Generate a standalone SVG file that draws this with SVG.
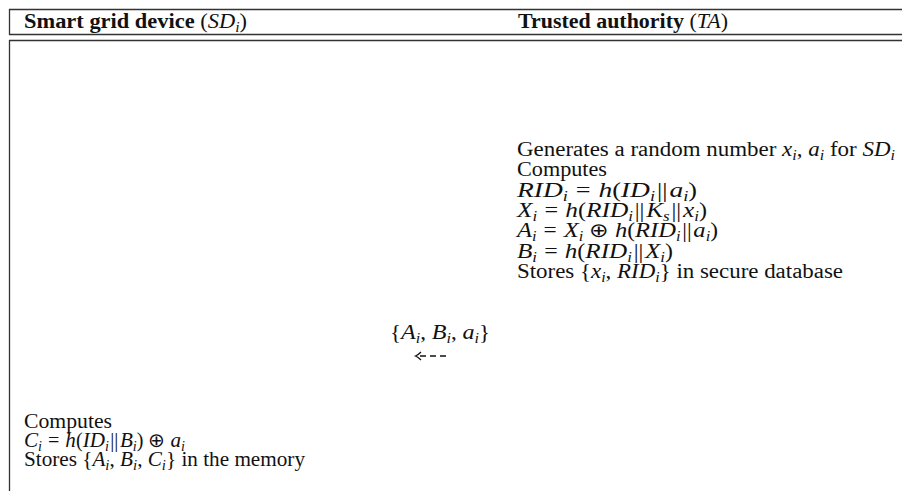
<svg xmlns="http://www.w3.org/2000/svg" width="902" height="491" viewBox="0 0 902 491">
<style>
text{font-family:"Liberation Serif","Times New Roman",serif;font-size:20px;fill:#111}
.b{font-weight:bold}
.m{font-style:italic}
.q{font-style:italic;font-size:21px}
.s{font-style:italic;font-size:14px}
.rule{stroke:#333;stroke-width:1.3;fill:none}
.arr{stroke:#111;stroke-width:1.3;fill:none}
</style>
<g id="frame">
<line class="rule" x1="9" y1="9.5" x2="902" y2="9.5"/>
<line class="rule" x1="9" y1="34.5" x2="902" y2="34.5"/>
<line class="rule" x1="9" y1="40.5" x2="902" y2="40.5"/>
<line class="rule" x1="9.5" y1="9" x2="9.5" y2="35"/>
<line class="rule" x1="9.5" y1="40" x2="9.5" y2="491"/>
</g>
<g id="header-sd"><text x="24" y="28" textLength="223" lengthAdjust="spacingAndGlyphs"><tspan class="b">Smart grid device</tspan> (<tspan class="m">SD</tspan><tspan class="s" dy="4">i</tspan><tspan dy="-4">)</tspan></text></g>
<g id="header-ta"><text x="518" y="28" textLength="210" lengthAdjust="spacingAndGlyphs"><tspan class="b">Trusted authority</tspan> (<tspan class="m">TA</tspan>)</text></g>
<g id="ta-node">
<text x="517" y="156" textLength="378" lengthAdjust="spacingAndGlyphs">Generates a random number <tspan class="m">x</tspan><tspan class="s" dy="4">i</tspan><tspan dy="-4">, </tspan><tspan class="m">a</tspan><tspan class="s" dy="4">i</tspan><tspan dy="-4"> for </tspan><tspan class="m">SD</tspan><tspan class="s" dy="4">i</tspan></text>
<text x="517" y="176.3" textLength="90" lengthAdjust="spacingAndGlyphs">Computes</text>
<text x="517" y="196.6" textLength="180" lengthAdjust="spacingAndGlyphs"><tspan class="q">RID</tspan><tspan class="s" dy="4">i</tspan><tspan dy="-4" dx="6">=</tspan><tspan class="q" dx="6">h</tspan>(<tspan class="q">ID</tspan><tspan class="s" dy="4">i</tspan><tspan dy="-4" dx="1.5">||</tspan><tspan class="q" dx="1.5">a</tspan><tspan class="s" dy="4">i</tspan><tspan dy="-4">)</tspan></text>
<text x="517" y="216.9" textLength="190" lengthAdjust="spacingAndGlyphs"><tspan class="q">X</tspan><tspan class="s" dy="4">i</tspan><tspan dy="-4" dx="6">=</tspan><tspan class="q" dx="6">h</tspan>(<tspan class="q">RID</tspan><tspan class="s" dy="4">i</tspan><tspan dy="-4" dx="1.5">||</tspan><tspan class="q" dx="1.5">K</tspan><tspan class="s" dy="4">s</tspan><tspan dy="-4" dx="1.5">||</tspan><tspan class="q" dx="1.5">x</tspan><tspan class="s" dy="4">i</tspan><tspan dy="-4">)</tspan></text>
<text x="517" y="237.2" textLength="201" lengthAdjust="spacingAndGlyphs"><tspan class="q">A</tspan><tspan class="s" dy="4">i</tspan><tspan dy="-4" dx="6">=</tspan><tspan class="q" dx="6">X</tspan><tspan class="s" dy="4">i</tspan><tspan dy="-4" dx="5">⊕</tspan><tspan class="q" dx="5">h</tspan>(<tspan class="q">RID</tspan><tspan class="s" dy="4">i</tspan><tspan dy="-4" dx="1.5">||</tspan><tspan class="q" dx="1.5">a</tspan><tspan class="s" dy="4">i</tspan><tspan dy="-4">)</tspan></text>
<text x="517" y="257.5" textLength="156" lengthAdjust="spacingAndGlyphs"><tspan class="q">B</tspan><tspan class="s" dy="4">i</tspan><tspan dy="-4" dx="6">=</tspan><tspan class="q" dx="6">h</tspan>(<tspan class="q">RID</tspan><tspan class="s" dy="4">i</tspan><tspan dy="-4" dx="1.5">||</tspan><tspan class="q" dx="1.5">X</tspan><tspan class="s" dy="4">i</tspan><tspan dy="-4">)</tspan></text>
<text x="517" y="277.8" textLength="326" lengthAdjust="spacingAndGlyphs">Stores {<tspan class="m">x</tspan><tspan class="s" dy="4">i</tspan><tspan dy="-4">, </tspan><tspan class="m">RID</tspan><tspan class="s" dy="4">i</tspan><tspan dy="-4">} in secure database</tspan></text>
</g>
<g id="connectors">
<text x="390" y="339" textLength="100" lengthAdjust="spacingAndGlyphs">{<tspan class="q">A</tspan><tspan class="s" dy="4">i</tspan><tspan dy="-4">, </tspan><tspan class="q">B</tspan><tspan class="s" dy="4">i</tspan><tspan dy="-4">, </tspan><tspan class="q">a</tspan><tspan class="s" dy="4">i</tspan><tspan dy="-4">}</tspan></text>
<g id="msg-arrow">
<line class="arr" x1="446" y1="356" x2="417" y2="356" stroke-dasharray="6,4"/>
<path class="arr" d="M421,352 Q418,355 415.5,356 Q418,357 421,360"/>
</g>
</g>
<g id="sd-node">
<text x="24" y="428" textLength="88" lengthAdjust="spacingAndGlyphs">Computes</text>
<text x="24" y="447" textLength="161" lengthAdjust="spacingAndGlyphs"><tspan class="q">C</tspan><tspan class="s" dy="4">i</tspan><tspan dy="-4" dx="6">=</tspan><tspan class="q" dx="6">h</tspan>(<tspan class="q">ID</tspan><tspan class="s" dy="4">i</tspan><tspan dy="-4" dx="1.5">||</tspan><tspan class="q" dx="1.5">B</tspan><tspan class="s" dy="4">i</tspan><tspan dy="-4">)</tspan><tspan dx="5">⊕</tspan><tspan class="q" dx="5">a</tspan><tspan class="s" dy="4">i</tspan></text>
<text x="24" y="466" textLength="281" lengthAdjust="spacingAndGlyphs">Stores {<tspan class="m">A</tspan><tspan class="s" dy="4">i</tspan><tspan dy="-4">, </tspan><tspan class="m">B</tspan><tspan class="s" dy="4">i</tspan><tspan dy="-4">, </tspan><tspan class="m">C</tspan><tspan class="s" dy="4">i</tspan><tspan dy="-4">} in the memory</tspan></text>
</g>
</svg>
